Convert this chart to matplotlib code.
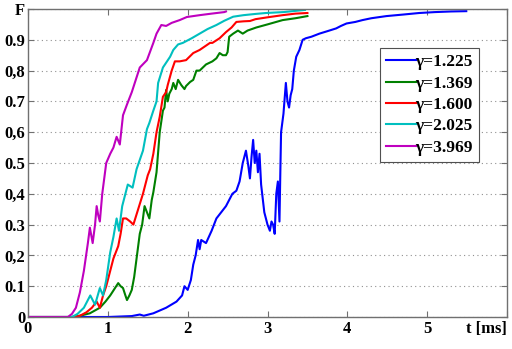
import matplotlib
matplotlib.use("Agg")
import matplotlib.pyplot as plt

# ---- data ----
labels = ["γ=1.225", "γ=1.369", "γ=1.600", "γ=2.025", "γ=3.969"]
colors = ["#0000ff", "#008000", "#ff0000", "#00bfbf", "#bf00bf"]

t_blue = [0, 1.0, 1.3, 1.4, 1.45, 1.57, 1.73, 1.86, 1.93, 1.96, 2.0, 2.04, 2.07, 2.1, 2.13, 2.15, 2.17,
          2.23, 2.3, 2.36, 2.42, 2.48, 2.56, 2.61, 2.65, 2.69, 2.73, 2.76, 2.78, 2.8, 2.82, 2.84, 2.86,
          2.88, 2.9, 2.92, 2.96, 3.0, 3.03, 3.05, 3.07, 3.09, 3.11, 3.13, 3.15, 3.16, 3.17, 3.2, 3.23,
          3.25, 3.27, 3.29, 3.31, 3.33, 3.36, 3.4, 3.44, 3.48, 3.55, 3.65, 3.75, 3.86, 3.92, 3.99,
          4.1, 4.19, 4.3, 4.49, 4.7, 4.9, 5.1, 5.3, 5.49]
F_blue = [0, 0, 0.003, 0.008, 0.004, 0.012, 0.03, 0.05, 0.07, 0.10, 0.088, 0.12, 0.17, 0.2, 0.25, 0.22, 0.25,
          0.24, 0.28, 0.32, 0.34, 0.36, 0.40, 0.41, 0.44, 0.50, 0.54, 0.49, 0.45, 0.52, 0.575, 0.50, 0.54,
          0.47, 0.53, 0.43, 0.34, 0.30, 0.28, 0.31, 0.30, 0.27, 0.40, 0.44, 0.31, 0.46, 0.60, 0.66, 0.76,
          0.70, 0.68, 0.72, 0.74, 0.80, 0.845, 0.867, 0.90, 0.905, 0.91, 0.92, 0.928, 0.937, 0.945, 0.953,
          0.958, 0.964, 0.97, 0.977, 0.982, 0.987, 0.99, 0.992, 0.993]

t_green = [0, 0.55, 0.65, 0.775, 0.9, 0.97, 1.03, 1.08, 1.13, 1.16, 1.19, 1.22, 1.24, 1.27, 1.3, 1.33, 1.36,
           1.4, 1.43, 1.46, 1.49, 1.52, 1.55, 1.57, 1.61, 1.65, 1.69, 1.71, 1.73, 1.75, 1.77, 1.8, 1.82,
           1.85, 1.88, 1.92, 1.96, 1.98, 2.03, 2.07, 2.11, 2.15, 2.23, 2.31, 2.36, 2.4, 2.44, 2.48, 2.5,
           2.52, 2.57, 2.63, 2.66, 2.69, 2.75, 2.86, 3.0, 3.19, 3.35, 3.5]
F_green = [0, 0, 0.004, 0.012, 0.03, 0.05, 0.07, 0.09, 0.11, 0.10, 0.094, 0.07, 0.055, 0.07, 0.088, 0.13, 0.19,
           0.27, 0.30, 0.36, 0.34, 0.32, 0.38, 0.405, 0.47, 0.60, 0.67, 0.68, 0.737, 0.70, 0.725, 0.74, 0.76,
           0.74, 0.77, 0.753, 0.74, 0.75, 0.763, 0.77, 0.80, 0.80, 0.82, 0.83, 0.84, 0.857, 0.85, 0.85, 0.86,
           0.91, 0.92, 0.93, 0.925, 0.92, 0.93, 0.94, 0.95, 0.964, 0.97, 0.977]

t_red = [0, 0.58, 0.65, 0.73, 0.8, 0.86, 0.9, 0.94, 0.98, 1.03, 1.07, 1.1, 1.13, 1.16, 1.19, 1.23, 1.28, 1.32,
         1.38, 1.44, 1.5, 1.53, 1.57, 1.61, 1.65, 1.69, 1.73, 1.75, 1.8, 1.84, 1.9, 1.98, 2.07, 2.15, 2.28,
         2.31, 2.4, 2.48, 2.55, 2.61, 2.7, 2.78, 2.85, 3.0, 3.19, 3.35, 3.5]
F_red = [0, 0, 0.004, 0.015, 0.03, 0.05, 0.03, 0.07, 0.10, 0.15, 0.19, 0.21, 0.23, 0.27, 0.32, 0.32, 0.31, 0.30,
         0.35, 0.40, 0.46, 0.48, 0.53, 0.60, 0.65, 0.715, 0.73, 0.753, 0.80, 0.83, 0.83, 0.834, 0.857, 0.867, 0.89,
         0.89, 0.905, 0.925, 0.94, 0.958, 0.96, 0.961, 0.967, 0.973, 0.98, 0.985, 0.987]

t_cyan = [0, 0.55, 0.62, 0.7, 0.78, 0.84, 0.9, 0.94, 0.98, 1.03, 1.07, 1.11, 1.14, 1.18, 1.25, 1.31, 1.36, 1.44,
          1.49, 1.52, 1.57, 1.61, 1.63, 1.69, 1.78, 1.82, 1.88, 1.94, 2.05, 2.15, 2.25, 2.36, 2.46, 2.57, 2.7,
          2.85, 2.98, 3.2, 3.47]
F_cyan = [0, 0, 0.01, 0.03, 0.07, 0.04, 0.094, 0.07, 0.12, 0.21, 0.26, 0.32, 0.28, 0.36, 0.43, 0.42, 0.48, 0.54,
          0.61, 0.63, 0.67, 0.70, 0.76, 0.81, 0.845, 0.867, 0.885, 0.89, 0.905, 0.92, 0.935, 0.948, 0.962, 0.975,
          0.98, 0.984, 0.987, 0.99, 0.997]

t_mag = [0, 0.5, 0.55, 0.6, 0.65, 0.7, 0.75, 0.775, 0.81, 0.84, 0.86, 0.88, 0.9, 0.93, 0.96, 0.98, 1.03, 1.07,
         1.11, 1.15, 1.19, 1.24, 1.3, 1.4, 1.49, 1.57, 1.61, 1.67, 1.73, 1.8, 1.9, 1.99, 2.15, 2.3, 2.46, 2.48]
F_mag = [0, 0, 0.01, 0.03, 0.08, 0.15, 0.24, 0.29, 0.24, 0.30, 0.36, 0.33, 0.31, 0.40, 0.46, 0.50, 0.53, 0.55,
         0.585, 0.56, 0.655, 0.69, 0.73, 0.81, 0.834, 0.89, 0.92, 0.948, 0.945, 0.955, 0.964, 0.974, 0.98, 0.985,
         0.99, 0.992]

series = [(t_blue, F_blue), (t_green, F_green), (t_red, F_red), (t_cyan, F_cyan), (t_mag, F_mag)]

x_ticks = [0, 1, 2, 3, 4, 5, 6]
x_ticklabels = ["0", "1", "2", "3", "4", "5", "t [ms]"]
y_ticks = [0, 0.1, 0.2, 0.3, 0.4, 0.5, 0.6, 0.7, 0.8, 0.9, 1.0]
y_ticklabels = ["0", "0.1", "0,2", "0.3", "0,4", "0.5", "0,6", "0.7", "0,8", "0.9", "F"]

# ---- plot ----
plt.rcParams['font.family'] = ['Liberation Serif', 'DejaVu Serif']
plt.rcParams['font.weight'] = 'bold'

fig = plt.figure(figsize=(5.12, 3.49), dpi=100)
ax = fig.add_axes([28/512, 32/349, 479/512, 308/349])

for (t, F), c, lab in zip(series, colors, labels):
    ax.plot(t, F, color=c, lw=1.5, label=lab)

ax.set_xlim(0, 6)
ax.set_ylim(0, 1)
ax.set_xticks(x_ticks)
ax.set_xticklabels(x_ticklabels, fontsize=12, fontweight='bold')
ax.set_yticks(y_ticks)
ax.set_yticklabels(y_ticklabels, fontsize=12, fontweight='bold')
ax.get_xticklabels()[-1].set_horizontalalignment('right')

ax.tick_params(direction='in', length=4, width=0.8, color='#707070', top=True, right=True, pad=3)
ax.tick_params(axis='y', pad=2)
for s in ax.spines.values():
    s.set_color('#707070')
    s.set_linewidth(1.0)

ax.yaxis.grid(True, linestyle=(0, (1, 3)), color='#909090', lw=0.8)
ax.xaxis.grid(False)

leg = ax.legend(loc='upper left', bbox_to_anchor=(0.735, 0.873),
                prop={'weight': 'bold', 'size': 12.5}, handlelength=1.7, handletextpad=0.0,
                labelspacing=0.3, borderpad=0.35, borderaxespad=0, fancybox=False, framealpha=1)
leg.get_frame().set_edgecolor('#505050')
leg.get_frame().set_linewidth(0.8)

fig.savefig("out.png", dpi=100)
